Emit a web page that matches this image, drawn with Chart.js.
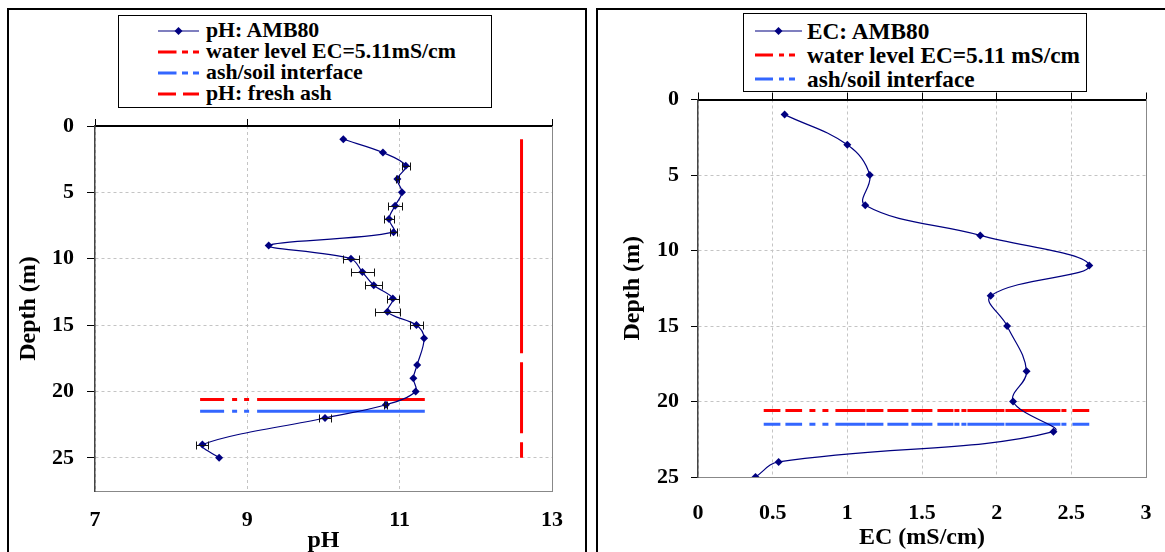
<!DOCTYPE html>
<html>
<head>
<meta charset="utf-8">
<script src="https://cdn.jsdelivr.net/npm/chart.js@4/dist/chart.umd.min.js"></script>
<style>
  body { margin: 0; width: 1165px; height: 552px; overflow: hidden; position: relative; background: #fff;
         font-family: 'Liberation Serif', 'Times New Roman', serif; }
  .panel { position: absolute; border: 2px solid #000; box-sizing: border-box; }
  .box { position: absolute; }
  .legend { position: absolute; border: 1.5px solid #000; box-sizing: border-box; background: #fff;
            font-weight: bold; color: #000; }
  .legend .row { display: flex; align-items: center; white-space: nowrap; }
  .legend svg { flex: none; display: block; }
</style>
</head>
<body>
<div class="panel" style="left:7px; top:8px; width:580px; height:570px;"></div>
<div class="panel" style="left:596px; top:8px; width:600px; height:570px;"></div>
<div class="box" style="left:9px; top:10px; width:576px; height:548px;"><canvas id="phChart"></canvas></div>
<div class="box" style="left:600px; top:10px; width:563px; height:545px;"><canvas id="ecChart"></canvas></div>
<div class="legend" id="phLegend" style="left:118px; top:15px; width:374px; height:93px; padding:4px 0 0 39px; font-size:21.8px; line-height:21px;"></div>
<div class="legend" id="ecLegend" style="left:743px; top:13px; width:344px; height:79px; padding:5px 0 0 11px; font-size:23.3px; line-height:24px;"></div>
<script>
// left: pH profile
const phDepth = [1, 2, 3, 4, 5, 6, 7, 8, 9, 10, 11, 12, 13, 14, 15, 16, 18, 19, 20, 21, 22, 24, 25];
const phValue = [10.26, 10.78, 11.08, 10.97, 11.03, 10.94, 10.86, 10.92, 9.28, 10.36, 10.51, 10.66, 10.91,
                 10.84, 11.22, 11.32, 11.23, 11.18, 11.21, 10.82, 10.02, 8.41, 8.63];
const phErr = [0, 0, 0.05, 0.02, 0, 0.09, 0.06, 0.05, 0, 0.1, 0.15, 0.11, 0.08,
               0.17, 0.09, 0, 0, 0, 0, 0.02, 0.08, 0.08, 0];
const phLineRange = [8.38, 11.33];
const freshAshPh = 12.6;
const freshAshDepth = [1, 25];

// right: EC profile
const ecDepth = [1, 3, 5, 7, 9, 11, 13, 15, 18, 20, 22, 24, 25];
const ecValue = [0.58, 1.0, 1.15, 1.12, 1.89, 2.62, 1.96, 2.07, 2.2, 2.11, 2.38, 0.54, 0.385];
const ecLineRange = [0.44, 2.62];

// levels (m)
const waterLevel = 20.6;
const ashSoil = 21.5;

// tick labels
const depthTicks = [0, 5, 10, 15, 20, 25];
const phTicks = [7, 9, 11, 13];
const ecTicks = [0, 0.5, 1, 1.5, 2, 2.5, 3];

const navy = '#000080';
const red = '#ff0000';
const blue = '#3366ff';
const gridGrey = '#c4c4c4';

Chart.defaults.font.family = "'Liberation Serif', 'Times New Roman', serif";
Chart.defaults.font.weight = 'bold';
Chart.defaults.color = '#000';
Chart.defaults.animation = false;

// fixed axis sizes, no extra room for overhanging labels
function fixSize(prop, size) {
  return function (scale) {
    scale[prop] = size;
    scale.paddingLeft = 0; scale.paddingRight = 0;
    scale.paddingTop = 0; scale.paddingBottom = 0;
  };
}
function setTicks(values) {
  return function (scale) { scale.ticks = values.map(function (v) { return { value: v }; }); };
}
function toPoints(xs, ys) {
  return xs.map(function (x, i) { return { x: x, y: ys[i] }; });
}
function hLine(range, depth) {
  return [{ x: range[0], y: depth }, { x: range[1], y: depth }];
}
function plain(v) {
  return String(v);
}

// horizontal error bars on the pH profile
const errorBars = {
  id: 'errorBars',
  afterDatasetsDraw(chart) {
    const xs = chart.scales.x, ys = chart.scales.y, ctx = chart.ctx;
    ctx.save();
    ctx.strokeStyle = '#111';
    ctx.lineWidth = 1;
    phValue.forEach(function (v, i) {
      if (!phErr[i]) return;
      const y = Math.round(ys.getPixelForValue(phDepth[i])) + 0.5;
      const x1 = Math.round(xs.getPixelForValue(v - phErr[i])) + 0.5;
      const x2 = Math.round(xs.getPixelForValue(v + phErr[i])) + 0.5;
      ctx.beginPath();
      ctx.moveTo(x1, y); ctx.lineTo(x2, y);
      ctx.moveTo(x1, y - 4); ctx.lineTo(x1, y + 4);
      ctx.moveTo(x2, y - 4); ctx.lineTo(x2, y + 4);
      ctx.stroke();
    });
    ctx.restore();
  }
};

function makeScales(o) {
  return {
    x: {
      type: 'linear', position: 'bottom', min: o.xMin, max: o.xMax,
      afterBuildTicks: setTicks(o.xTicks), afterFit: fixSize('height', o.bottomH),
      grid: { color: gridGrey, drawTicks: false },
      border: { color: '#888', width: 1, dash: [3, 3] },
      ticks: { padding: o.xPad, font: { size: 22 }, callback: plain },
      title: { display: true, text: o.xTitle, font: { size: 24 }, padding: { top: 0, bottom: 2.6 } }
    },
    xTop: {
      type: 'linear', position: 'top', min: o.xMin, max: o.xMax,
      afterBuildTicks: setTicks(o.xTicks), afterFit: fixSize('height', 7),
      grid: { drawOnChartArea: false, tickLength: 7, tickColor: '#000', color: '#000' },
      border: { color: '#000', width: 2 },
      ticks: { display: false }
    },
    y: {
      type: 'linear', min: 0, max: o.yMax, reverse: true,
      afterBuildTicks: setTicks(depthTicks), afterFit: fixSize('width', o.leftW),
      grid: { color: gridGrey, tickLength: o.tickLen, tickColor: '#000', tickBorderDash: [1, 0] },
      border: { color: '#444', width: 1.5, dash: [3, 3] },
      ticks: { padding: o.yPad, font: { size: 22 }, callback: plain },
      title: { display: true, text: 'Depth (m)', font: { size: 24 }, padding: { top: o.titlePad, bottom: 0 } }
    },
    yRight: {
      type: 'linear', position: 'right', min: 0, max: o.yMax, reverse: true,
      afterFit: fixSize('width', 0),
      grid: { display: false },
      border: { color: '#888', width: 1 },
      ticks: { display: false }
    }
  };
}

new Chart(document.getElementById('phChart'), {
  type: 'scatter',
  data: {
    datasets: [
      {
        label: 'pH: AMB80', data: toPoints(phValue, phDepth), showLine: true, tension: 0.35,
        borderColor: navy, borderWidth: 1.2, backgroundColor: navy,
        pointStyle: 'rectRot', pointRadius: 4, pointBorderWidth: 0
      },
      {
        label: 'water level EC=5.11mS/cm', data: hLine(phLineRange, waterLevel), showLine: true,
        borderColor: red, borderWidth: 3, borderDash: [24, 8, 5, 7, 5, 8, 400, 0], pointRadius: 0
      },
      {
        label: 'ash/soil interface', data: hLine(phLineRange, ashSoil), showLine: true,
        borderColor: blue, borderWidth: 3, borderDash: [24, 8, 5, 7, 5, 8, 400, 0], pointRadius: 0
      },
      {
        label: 'pH: fresh ash', data: toPoints([freshAshPh, freshAshPh], freshAshDepth), showLine: true,
        borderColor: red, borderWidth: 3, borderDash: [214, 9, 71, 9], pointRadius: 0
      }
    ]
  },
  options: {
    responsive: true, maintainAspectRatio: false,
    layout: { padding: { left: 0, right: 33, top: 109, bottom: 0 } },
    plugins: { legend: { display: false }, tooltip: { enabled: false } },
    scales: makeScales({ xMin: 7, xMax: 13, xTicks: phTicks, xTitle: 'pH', bottomH: 67, xPad: 16,
                         yMax: 27.5, leftW: 86, tickLen: 8, yPad: 13, titlePad: 5.6 })
  },
  plugins: [errorBars]
});

const ecDash = [16.7, 5, 16.7, 7.3, 6, 7, 6, 7, 30, 1, 17, 4, 21, 3, 21, 5, 16, 1, 5, 2, 5, 1, 37, 1, 55, 1, 5, 6, 18, 10];

new Chart(document.getElementById('ecChart'), {
  type: 'scatter',
  data: {
    datasets: [
      {
        label: 'EC: AMB80', data: toPoints(ecValue, ecDepth), showLine: true, tension: 0.4,
        borderColor: navy, borderWidth: 1.2, backgroundColor: navy,
        pointStyle: 'rectRot', pointRadius: 4, pointBorderWidth: 0
      },
      {
        label: 'water level EC=5.11 mS/cm', data: hLine(ecLineRange, waterLevel), showLine: true,
        borderColor: red, borderWidth: 3, borderDash: ecDash, pointRadius: 0
      },
      {
        label: 'ash/soil interface', data: hLine(ecLineRange, ashSoil), showLine: true,
        borderColor: blue, borderWidth: 3, borderDash: ecDash, pointRadius: 0
      }
    ]
  },
  options: {
    responsive: true, maintainAspectRatio: false,
    layout: { padding: { left: 0, right: 17, top: 82.5, bottom: 0 } },
    plugins: { legend: { display: false }, tooltip: { enabled: false } },
    scales: makeScales({ xMin: 0, xMax: 3, xTicks: ecTicks, xTitle: 'EC (mS/cm)', bottomH: 78, xPad: 23,
                         yMax: 25, leftW: 98, tickLen: 7, yPad: 12, titlePad: 18.6 })
  }
});

// html legends
function sample(item, w) {
  const mid = w / 2;
  let s = '<svg width="' + w + '" height="14"><line x1="0" y1="7" x2="' + w + '" y2="7" stroke="' + item.color +
          '" stroke-width="' + item.width + '"' + (item.dash ? ' stroke-dasharray="' + item.dash + '"' : '') + '/>';
  if (item.marker) {
    s += '<polygon points="' + mid + ',3 ' + (mid + 4) + ',7 ' + mid + ',11 ' + (mid - 4) + ',7" fill="' + item.color + '"/>';
  }
  return s + '</svg>';
}
function buildLegend(id, items, w, gap) {
  const el = document.getElementById(id);
  items.forEach(function (item) {
    const row = document.createElement('div');
    row.className = 'row';
    row.innerHTML = sample(item, w) + '<span style="margin-left:' + gap + 'px">' + item.text + '</span>';
    el.appendChild(row);
  });
}

buildLegend('phLegend', [
  { text: 'pH: AMB80', color: navy, width: 1.2, marker: true },
  { text: 'water level EC=5.11mS/cm', color: red, width: 3, dash: '18.5 5.5 6 5 6 100' },
  { text: 'ash/soil interface', color: blue, width: 3, dash: '18.5 5.5 6 5 6 100' },
  { text: 'pH: fresh ash', color: red, width: 3, dash: '18 7 16 100' }
], 41, 7);

buildLegend('ecLegend', [
  { text: 'EC: AMB80', color: navy, width: 1.2, marker: true },
  { text: 'water level EC=5.11 mS/cm', color: red, width: 3, dash: '18 6 5 5 6 100' },
  { text: 'ash/soil interface', color: blue, width: 3, dash: '18 6 5 5 6 100' }
], 47, 5);
</script>
</body>
</html>
